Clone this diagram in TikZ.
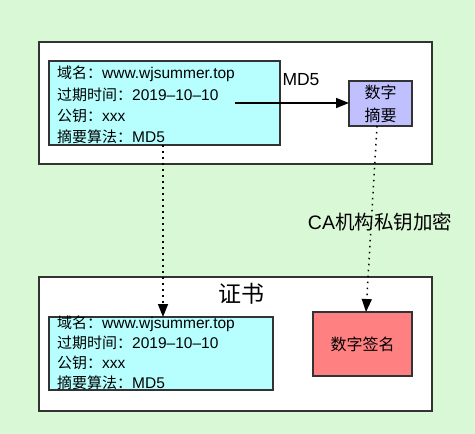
\documentclass[tikz,border=0pt]{standalone}
\usepackage{fontspec}
\setmainfont{Liberation Sans}
\newfontfamily\cjk{Noto Sans CJK SC}
\usetikzlibrary{arrows.meta}
\definecolor{bgc}{RGB}{217,248,214}
\definecolor{cyanc}{RGB}{183,255,255}
\definecolor{purc}{RGB}{192,192,255}
\definecolor{redc}{RGB}{255,128,128}
\definecolor{edgec}{RGB}{51,51,51}
\begin{document}
\begin{tikzpicture}[x=1pt,y=-1pt,
  box/.style={draw=edgec,line width=1.5pt,inner sep=0pt,outer sep=0pt},
  info/.style={inner sep=0pt,anchor=north west,align=left,font=\fontsize{15.5}{21.3}\selectfont},
  solidarrow/.style={line width=1.5pt,-{Triangle[length=13pt,width=10pt]}},
  dotarrow/.style={line width=1.5pt,dash pattern=on 1.5pt off 4.5pt,-{Triangle[length=13pt,width=10pt]}}]
\path[fill=bgc,use as bounding box] (0,0) rectangle (475,434);
% outer boxes
\node[box,fill=white,minimum width=393pt,minimum height=122pt] (topouter) at (235.5,103) {};
\node[box,fill=white,minimum width=393pt,minimum height=134pt] (botouter) at (235.5,344) {};
% top cyan
\node[box,fill=cyanc,minimum width=231pt,minimum height=84pt] (topcyan) at (164.5,103) {};
\node[info] (toptext) at (57,66) {{\cjk\fontsize{15}{21.3}\selectfont 域名：}www.wjsummer.top\\{\cjk\fontsize{15}{21.3}\selectfont 过期时间：}2019–10–10\\{\cjk\fontsize{15}{21.3}\selectfont 公钥：}xxx\\{\cjk\fontsize{15}{21.3}\selectfont 摘要算法：}MD5};
% digest
\node[box,fill=purc,minimum width=63pt,minimum height=45pt,align=center,font=\cjk\fontsize{16}{23}\selectfont] (digest) at (380.5,103.5) {数字\\摘要};
% bottom
\node[font=\cjk\fontsize{23}{23}\selectfont,inner sep=0pt] (certlabel) at (241,294) {证书};
\node[box,fill=cyanc,minimum width=224pt,minimum height=73pt] (botcyan) at (161,353.5) {};
\node[info,font=\fontsize{15.5}{20}\selectfont] (bottext) at (57,316) {{\cjk\fontsize{15}{20}\selectfont 域名：}www.wjsummer.top\\{\cjk\fontsize{15}{20}\selectfont 过期时间：}2019–10–10\\{\cjk\fontsize{15}{20}\selectfont 公钥：}xxx\\{\cjk\fontsize{15}{20}\selectfont 摘要算法：}MD5};
\node[box,fill=redc,minimum width=99pt,minimum height=64pt,font=\cjk\fontsize{16}{16}\selectfont] (sig) at (362.5,344) {数字签名};
% labels
\node[font=\fontsize{17.5}{17.5}\selectfont,inner sep=0pt] (md5) at (301,80) {MD5};
\node[font=\fontsize{19.5}{19.5}\selectfont,inner sep=0pt] (calabel) at (380,222) {CA{\cjk 机构私钥加密}};
% connectors
\coordinate (arrstart) at (235,103);
\coordinate (lx) at (163,0);
\draw[solidarrow] (arrstart) -- (digest.west |- arrstart);
\draw[dotarrow] (topcyan.south -| lx) -- (botcyan.north -| lx);
\draw[dotarrow] ([xshift=-3.5pt]digest.south) -- ([xshift=3.5pt]sig.north);
\end{tikzpicture}
\end{document}
